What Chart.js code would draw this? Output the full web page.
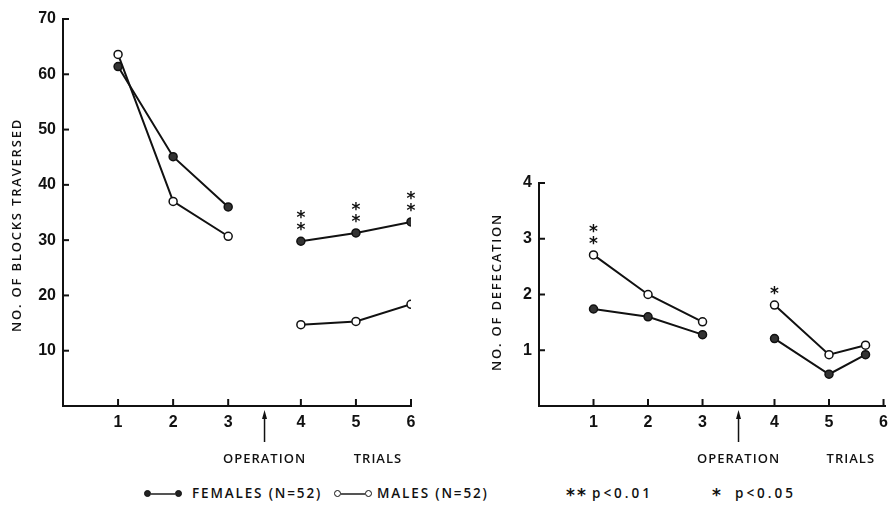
<!DOCTYPE html>
<html>
<head>
<meta charset="utf-8">
<script src="https://cdn.jsdelivr.net/npm/chart.js@4.4.0/dist/chart.umd.min.js"></script>
<style>
    html, body { margin: 0; padding: 0; background: #fff; }
    #wrap { position: relative; width: 895px; height: 506px; overflow: hidden; }
    #left { position: absolute; left: 0; top: 0; }
    #right { position: absolute; left: 450px; top: 0; }
    .leg {
        position: absolute;
        top: 484px;
        font: 600 13.5px "Open Sans", sans-serif;
        letter-spacing: 1.85px;
        color: #111;
        white-space: nowrap;
        line-height: 18px;
    }
    .leg.p { letter-spacing: 3px; }
    .leg.star {
        top: 484px;
        font: bold 17px "DejaVu Sans", sans-serif;
        letter-spacing: 2px;
        line-height: 22px;
    }
    .dot {
        position: absolute;
        top: 490px;
        width: 7px;
        height: 7px;
        border-radius: 50%;
        box-sizing: border-box;
        border: 1.5px solid #111;
    }
    .dot.filled { background: #222; }
    .dot.open { background: #fff; }
    .seg { position: absolute; top: 492.5px; height: 2px; background: #555; }
</style>
</head>
<body>
<div id="wrap">
    <canvas id="left" width="450" height="472"></canvas>
    <canvas id="right" width="445" height="472"></canvas>

    <div class="dot filled" style="left:144px"></div>
    <div class="seg" style="left:151px;width:24px"></div>
    <div class="dot filled" style="left:175px"></div>
    <div class="leg" style="left:192px">FEMALES (N=52)</div>

    <div class="dot open" style="left:334px"></div>
    <div class="seg" style="left:341px;width:24px"></div>
    <div class="dot open" style="left:365px"></div>
    <div class="leg" style="left:377px">MALES (N=52)</div>

    <div class="leg star" style="left:566px">**</div>
    <div class="leg p" style="left:592px">p&lt;0.01</div>
    <div class="leg star" style="left:712px">*</div>
    <div class="leg p" style="left:735px">p&lt;0.05</div>
</div>

<script>
const trialLabels = ["1", "2", "3", "4", "5", "6"];

// left panel: blocks traversed
const blocksTrialX = [1, 2, 3, 4, 5, 6];
const blocksFemales = [61.4, 45.1, 36.0, 29.8, 31.3, 33.3];
const blocksMales = [63.6, 37.0, 30.7, 14.7, 15.3, 18.4];
const blocksSig = ["", "", "", "**", "**", "**"];
const blocksYTicks = [10, 20, 30, 40, 50, 60, 70];

// right panel: defecation (last point sits short of tick 6 in the original)
const defecTrialX = [1, 2, 3, 4, 5, 5.67];
const defecFemales = [1.74, 1.60, 1.28, 1.21, 0.57, 0.92];
const defecMales = [2.71, 2.00, 1.51, 1.81, 0.92, 1.09];
const defecSig = ["**", "", "", "*", "", ""];
const defecYTicks = [1, 2, 3, 4];

// extra room on the x axis for the operation break after trial 3
const OP_GAP = 0.32;
const pos = t => t + (t > 3 ? OP_GAP : 0);

const INK = "#111";
const tickFont = { family: "'Liberation Sans', sans-serif", size: 16, weight: "bold" };
const textFont = "600 13px 'Open Sans', sans-serif";

function points(xs, ys) {
    return xs.map((t, i) => ({ x: pos(t), y: ys[i] }));
}

function lineSet(label, xs, ys, filled) {
    return {
        label: label,
        data: points(xs, ys),
        borderColor: INK,
        borderWidth: 2,
        pointRadius: 4,
        pointBorderWidth: 1.5,
        pointBorderColor: INK,
        pointBackgroundColor: filled ? "#333" : "#fff",
        tension: 0,
        segment: {
            borderColor: ctx => ctx.p0DataIndex === 2 ? "rgba(0,0,0,0)" : INK
        }
    };
}

function line(ctx, x1, y1, x2, y2) {
    ctx.beginPath();
    ctx.moveTo(x1, y1);
    ctx.lineTo(x2, y2);
    ctx.stroke();
}

const extras = {
    id: "extras",
    afterDraw(chart, args, opts) {
        const { ctx, chartArea, scales } = chart;
        const xs = scales.x, ys = scales.y;
        ctx.save();
        ctx.strokeStyle = INK;
        ctx.fillStyle = INK;
        ctx.lineWidth = 2;

        // inward tick marks
        trialLabels.forEach((l, i) => {
            const px = xs.getPixelForValue(pos(i + 1));
            line(ctx, px, chartArea.bottom, px, chartArea.bottom - 7);
        });
        opts.yTicks.forEach(v => {
            const py = ys.getPixelForValue(v);
            line(ctx, chartArea.left, py, chartArea.left + 6, py);
        });

        // significance stars over the higher point
        ctx.font = "bold 17px 'DejaVu Sans', sans-serif";
        ctx.textAlign = "center";
        ctx.textBaseline = "alphabetic";
        opts.sig.forEach((s, i) => {
            if (!s) return;
            const top = Math.max(opts.a[i], opts.b[i]);
            const px = xs.getPixelForValue(pos(opts.x[i]));
            const py = ys.getPixelForValue(top);
            for (let k = 0; k < s.length; k++) {
                ctx.fillText("*", px, py - 16 - 12 * k + 10);
            }
        });

        // operation arrow
        const ax = xs.getPixelForValue(3.66);
        const b = chartArea.bottom;
        ctx.lineWidth = 1.5;
        line(ctx, ax, b + 10, ax, b + 36);
        ctx.beginPath();
        ctx.moveTo(ax, b + 4);
        ctx.lineTo(ax - 2.5, b + 13);
        ctx.lineTo(ax + 2.5, b + 13);
        ctx.closePath();
        ctx.fill();

        ctx.font = textFont;
        ctx.letterSpacing = "1px";
        ctx.textBaseline = "middle";
        ctx.fillText("OPERATION", ax, b + 53);
        ctx.fillText("TRIALS", xs.getPixelForValue(5.72), b + 53);

        // rotated y axis title
        ctx.translate(chartArea.left - opts.titleDx, opts.titleY);
        ctx.rotate(-Math.PI / 2);
        ctx.letterSpacing = "1.8px";
        ctx.fillText(opts.title, 0, 0);
        ctx.restore();
    }
};

function makeChart(id, cfg) {
    return new Chart(document.getElementById(id), {
        type: "line",
        data: {
            datasets: [
                lineSet("FEMALES (N=52)", cfg.x, cfg.females, true),
                lineSet("MALES (N=52)", cfg.x, cfg.males, false)
            ]
        },
        options: {
            responsive: false,
            animation: false,
            layout: { padding: cfg.padding },
            plugins: {
                legend: { display: false },
                tooltip: { enabled: false },
                extras: {
                    yTicks: cfg.yTicks,
                    sig: cfg.sig,
                    a: cfg.females,
                    b: cfg.males,
                    x: cfg.x,
                    title: cfg.title,
                    titleDx: cfg.titleDx,
                    titleY: cfg.titleY
                }
            },
            scales: {
                x: {
                    type: "linear",
                    min: 0,
                    max: cfg.xMax,
                    afterBuildTicks: s => {
                        s.ticks = trialLabels.map((l, i) => ({ value: pos(i + 1) }));
                    },
                    afterFit: s => { s.height = 66; },
                    ticks: {
                        color: INK,
                        font: tickFont,
                        padding: 7,
                        maxRotation: 0,
                        callback: (v, i) => trialLabels[i]
                    },
                    grid: { display: false, drawTicks: false },
                    border: { display: true, color: INK, width: 2 }
                },
                y: {
                    min: 0,
                    max: cfg.yTicks[cfg.yTicks.length - 1],
                    afterBuildTicks: s => {
                        s.ticks = cfg.yTicks.map(v => ({ value: v }));
                    },
                    afterFit: s => { s.width = cfg.yWidth; },
                    ticks: {
                        color: INK,
                        font: tickFont,
                        padding: 7
                    },
                    grid: { display: false, drawTicks: false },
                    border: { display: true, color: INK, width: 2 }
                }
            }
        },
        plugins: [extras]
    });
}

makeChart("left", {
    x: blocksTrialX,
    females: blocksFemales,
    males: blocksMales,
    sig: blocksSig,
    yTicks: blocksYTicks,
    xMax: 6.32,
    yWidth: 63,
    padding: { top: 19, right: 39, left: 0, bottom: 0 },
    title: "NO. OF BLOCKS TRAVERSED",
    titleDx: 46,
    titleY: 225
});

makeChart("right", {
    x: defecTrialX,
    females: defecFemales,
    males: defecMales,
    sig: defecSig,
    yTicks: defecYTicks,
    xMax: 6.35,
    yWidth: 89,
    padding: { top: 183, right: 6, left: 0, bottom: 0 },
    title: "NO. OF DEFECATION",
    titleDx: 42,
    titleY: 292
});
</script>
</body>
</html>
